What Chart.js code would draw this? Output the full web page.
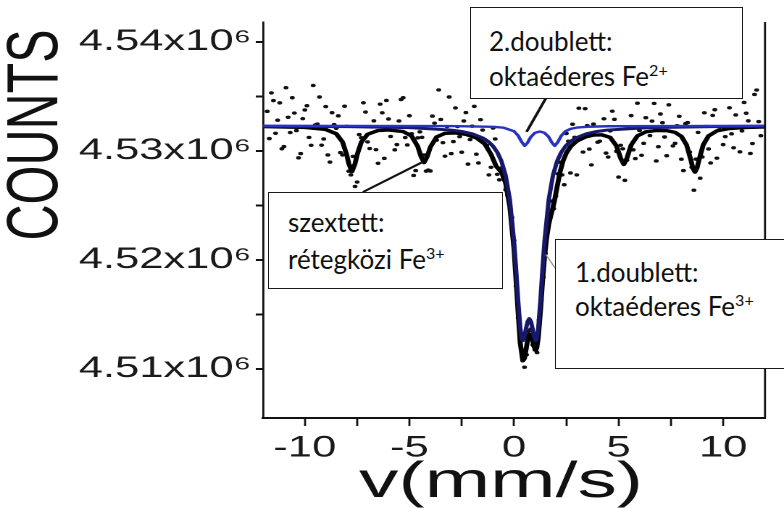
<!DOCTYPE html>
<html>
<head>
<meta charset="utf-8">
<script src="https://cdn.jsdelivr.net/npm/chart.js@4.4.1/dist/chart.umd.min.js"></script>
<style>
  html, body { margin: 0; padding: 0; background: #fff; }
  #page { position: relative; width: 784px; height: 509px; overflow: hidden; }
  /* the original figure is stretched sideways, so the plot canvas is too */
  #plot { position: absolute; left: 0; top: 0; width: 541px; height: 509px; transform: scaleX(1.44917); transform-origin: 0 0; }
  .note { position: absolute; box-sizing: border-box; background: #fff; border: 1.5px solid #1a1a1a;
          font-family: Lato, "Noto Sans", sans-serif; font-size: 26px; color: #111; white-space: nowrap; }
  .note sup { font-size: 62%; vertical-align: 0.62em; line-height: 0; }
</style>
</head>
<body>
<div id="page">
  <div id="plot"><canvas id="chart"></canvas></div>
  <div class="note" style="left:268px; top:192px; width:235px; height:97px; padding:11px 0 0 19px; line-height:37px;">szextett:<br>rétegközi Fe<sup>3+</sup></div>
  <div class="note" style="left:470px; top:7px; width:273px; height:92px; padding:16px 0 0 18px; line-height:35px;">2.doublett:<br>oktaéderes Fe<sup>2+</sup></div>
  <div class="note" style="left:555px; top:239px; width:240px; height:130px; padding:15px 0 0 19px; line-height:34px;">1.doublett:<br>oktaéderes Fe<sup>3+</sup></div>
</div>
<script>
// measured spectrum, even channels (velocity in mm/s, counts)
const measuredV = [-11.8, -11.6, -11.4, -11.2, -11.0, -10.8, -10.6, -10.4, -10.2, -10.0,
  -9.8, -9.6, -9.4, -9.2, -9.0, -8.8, -8.6, -8.4, -8.2, -8.0,
  -7.8, -7.6, -7.4, -7.2, -7.0, -6.8, -6.6, -6.4, -6.2, -6.0,
  -5.8, -5.6, -5.4, -5.2, -5.0, -4.8, -4.6, -4.4, -4.2, -4.0,
  -3.8, -3.6, -3.4, -3.2, -3.0, -2.8, -2.6, -2.4, -2.2, -2.0,
  -1.8, -1.6, -1.4, -1.2, -1.0, -0.8, -0.6, -0.4, -0.2, 0.0,
  0.2, 0.4, 0.6, 0.8, 1.0, 1.2, 1.4, 1.6, 1.8, 2.0,
  2.2, 2.4, 2.6, 2.8, 3.0, 3.2, 3.4, 3.6, 3.8, 4.0,
  4.2, 4.4, 4.6, 4.8, 5.0, 5.2, 5.4, 5.6, 5.8, 6.0,
  6.2, 6.4, 6.6, 6.8, 7.0, 7.2, 7.4, 7.6, 7.8, 8.0,
  8.2, 8.4, 8.6, 8.8, 9.0, 9.2, 9.4, 9.6, 9.8, 10.0,
  10.2, 10.4, 10.6, 10.8, 11.0, 11.2, 11.4, 11.6, 11.8];
const measuredCounts = [4533630, 4535325, 4531620, 4534410, 4530400, 4533090, 4534880, 4531870, 4529760, 4533760,
  4531240, 4536010, 4532470, 4530530, 4534070, 4528980, 4532420, 4533220, 4529630, 4532260,
  4527800, 4526740, 4531500, 4534420, 4530830, 4532200, 4530120, 4534290, 4529320, 4532930,
  4532220, 4530580, 4534720, 4531230, 4533230, 4527750, 4531200, 4531250, 4528150, 4528160,
  4532550, 4535600, 4530760, 4532240, 4529760, 4533950, 4531310, 4532750, 4528790, 4532270,
  4529700, 4532870, 4531040, 4527800, 4532100, 4527860, 4528450, 4526440, 4525010, 4521800,
  4514700, 4511200, 4511300, 4513650, 4511750, 4514500, 4518400, 4522800, 4525400, 4525850,
  4528970, 4526900, 4530900, 4532450, 4527800, 4531320, 4533880, 4530170, 4532460, 4530800,
  4534980, 4529800, 4531840, 4532900, 4527600, 4530200, 4529150, 4533240, 4529300, 4531880,
  4530700, 4534980, 4532740, 4529080, 4533390, 4531280, 4534230, 4530460, 4532320, 4529240,
  4532500, 4529900, 4526400, 4531700, 4529450, 4532250, 4528900, 4533780, 4532180, 4530580,
  4536650, 4531570, 4533300, 4529920, 4534450, 4532760, 4530680, 4535590, 4531400];

// measured spectrum, odd channels
const measuredV2 = [-11.7, -11.5, -11.3, -11.1, -10.9, -10.7, -10.5, -10.3, -10.1, -9.9,
  -9.7, -9.5, -9.3, -9.1, -8.9, -8.7, -8.5, -8.3, -8.1, -7.9,
  -7.7, -7.5, -7.3, -7.1, -6.9, -6.7, -6.5, -6.3, -6.1, -5.9,
  -5.7, -5.5, -5.3, -5.1, -4.9, -4.7, -4.5, -4.3, -4.1, -3.9,
  -3.7, -3.5, -3.3, -3.1, -2.9, -2.7, -2.5, -2.3, -2.1, -1.9,
  -1.7, -1.5, -1.3, -1.1, -0.9, -0.7, -0.5, -0.3, -0.1, 0.1,
  0.3, 0.5, 0.7, 0.9, 1.1, 1.3, 1.5, 1.7, 1.9, 2.1,
  2.3, 2.5, 2.7, 2.9, 3.1, 3.3, 3.5, 3.7, 3.9, 4.1,
  4.3, 4.5, 4.7, 4.9, 5.1, 5.3, 5.5, 5.7, 5.9, 6.1,
  6.3, 6.5, 6.7, 6.9, 7.1, 7.3, 7.5, 7.7, 7.9, 8.1,
  8.3, 8.5, 8.7, 8.9, 9.1, 9.3, 9.5, 9.7, 9.9, 10.1,
  10.3, 10.5, 10.7, 10.9, 11.1, 11.3, 11.5, 11.7];
const measuredCounts2 = [4531130, 4534620, 4532820, 4530200, 4535800, 4531690, 4533480, 4529370, 4532960, 4534150,
  4530520, 4532390, 4534950, 4531100, 4529630, 4533510, 4532080, 4529850, 4534100, 4528140,
  4529500, 4527150, 4531210, 4533570, 4530220, 4532760, 4528870, 4533500, 4534630, 4531330,
  4530100, 4532750, 4534880, 4530550, 4531580, 4528200, 4531750, 4529630, 4528250, 4533200,
  4530990, 4532890, 4529520, 4534950, 4530860, 4532240, 4529880, 4533520, 4531040, 4534090,
  4528900, 4531920, 4530500, 4528500, 4531100, 4527350, 4528100, 4525900, 4523900, 4517600,
  4512540, 4510160, 4513450, 4512200, 4511500, 4516300, 4520600, 4524350, 4524700, 4527900,
  4527800, 4531600, 4527980, 4531250, 4533920, 4529900, 4532330, 4528720, 4535180, 4530900,
  4532950, 4529440, 4533650, 4529960, 4530520, 4527300, 4532200, 4530100, 4534380, 4529600,
  4533050, 4531410, 4534360, 4530390, 4532590, 4529560, 4535700, 4530700, 4533180, 4528200,
  4532600, 4528500, 4529250, 4527500, 4533500, 4530180, 4533260, 4529340, 4535330, 4531310,
  4533960, 4530290, 4534910, 4531840, 4533460, 4529770, 4535180, 4532690];

// total fit (black)
const fitV = [-12, -10, -9, -8.5, -8.2, -8.0, -7.9, -7.75, -7.6, -7.5,
  -7.3, -7.0, -6.5, -6.0, -5.3, -4.9, -4.6, -4.45, -4.3, -4.15,
  -4.0, -3.7, -3.3, -2.8, -2.3, -1.8, -1.4, -1.1, -0.85, -0.6,
  -0.4, -0.2, 0, 0.2, 0.3, 0.42, 0.5, 0.58, 0.65, 0.73,
  0.81, 0.88, 0.96, 1.04, 1.09, 1.16, 1.26, 1.36, 1.46, 1.56,
  1.66, 1.75, 1.86, 1.95, 2.06, 2.2, 2.35, 2.5, 2.7, 3.0,
  3.4, 3.8, 4.2, 4.6, 4.9, 5.1, 5.25, 5.4, 5.6, 5.9,
  6.3, 6.8, 7.3, 7.7, 8.0, 8.25, 8.45, 8.55, 8.65, 8.75,
  8.85, 9.05, 9.3, 9.7, 10.3, 11, 12];
const fitCounts = [4532235, 4532156, 4531970, 4531580, 4530830, 4529659, 4528842, 4528101, 4528835, 4529649,
  4530812, 4531527, 4531872, 4531930, 4531780, 4531376, 4530401, 4529503, 4528931, 4529483,
  4530355, 4531285, 4531616, 4531654, 4531521, 4531203, 4530641, 4529697, 4528584, 4528046,
  4527041, 4524906, 4521000, 4515103, 4512341, 4510746, 4510964, 4511817, 4512623, 4513177,
  4513138, 4512693, 4512030, 4511718, 4511933, 4512873, 4515224, 4517946, 4520318, 4522054,
  4523258, 4523986, 4524810, 4525574, 4526698, 4528072, 4529115, 4529799, 4530383, 4530904,
  4531275, 4531455, 4531480, 4531236, 4530459, 4529319, 4528762, 4529349, 4530538, 4531383,
  4531752, 4531877, 4531861, 4531701, 4531341, 4530550, 4529213, 4528426, 4528063, 4528430,
  4529219, 4530573, 4531378, 4531843, 4532059, 4532150, 4532200];

// 1. doublett, octahedral Fe3+ (navy)
const fe3DoubletV = [-12, -8, -5, -3, -2.5, -2, -1.5, -1.2, -1.0, -0.8,
  -0.6, -0.4, -0.2, 0, 0.1, 0.2, 0.3, 0.37, 0.42, 0.5,
  0.58, 0.65, 0.73, 0.81, 0.88, 0.96, 1.04, 1.09, 1.16, 1.26,
  1.36, 1.46, 1.66, 1.86, 2.06, 2.26, 2.46, 2.66, 2.96, 3.46,
  3.96, 4.46, 6.46, 9.46, 12];
const fe3DoubletCounts = [4532267, 4532231, 4532138, 4531916, 4531785, 4531574, 4531199, 4530814, 4530433, 4529883,
  4529056, 4527739, 4525524, 4521729, 4519084, 4516195, 4513760, 4512806, 4512603, 4512971,
  4513746, 4514343, 4514616, 4514343, 4513746, 4512971, 4512603, 4512806, 4513760, 4516195,
  4519084, 4521729, 4525524, 4527739, 4529056, 4529883, 4530433, 4530814, 4531199, 4531574,
  4531785, 4531916, 4532138, 4532231, 4532262];

// 2. doublett, octahedral Fe2+ (blue)
const fe2DoubletV = [-12, -3, -1, -0.5, 0, 0.2, 0.35, 0.51, 0.65, 0.8,
  1.0, 1.23, 1.45, 1.65, 1.8, 1.95, 2.1, 2.25, 2.45, 2.7,
  3.0, 3.5, 4.5, 12];
const fe2DoubletCounts = [4532300, 4532281, 4532215, 4532131, 4531807, 4531399, 4530869, 4530467, 4530766, 4531278,
  4531660, 4531780, 4531671, 4531306, 4530802, 4530467, 4530831, 4531369, 4531793, 4532025,
  4532142, 4532219, 4532266, 4532300];

const xTickValues = [-10, -7.5, -5, -2.5, 0, 2.5, 5, 7.5, 10];
const xTickLabels = [-10, -5, 0, 5, 10];
const yTickValues = [4510000, 4515000, 4520000, 4525000, 4530000, 4535000, 4540000];
const yTickLabels = [4510000, 4520000, 4530000, 4540000];

const K = 784 / 541; // sideways stretch of the canvas
const FONT = '"Liberation Sans", Arial, sans-serif';

// leader lines from the text boxes (box end in page px, tip in data units)
const pointers = [
  { from: [363, 192], to: [-4.35, 4529000], color: '#111', width: 2 },
  { from: [546, 98], to: [0.6, 4531750], color: '#111', width: 2 },
  { from: [555, 268], to: [1.52, 4520500], color: '#999', width: 1 }
];

const toPoints = (xs, ys) => xs.map((x, i) => ({ x: x, y: ys[i] }));

const extras = {
  id: 'extras',
  afterDraw(chart) {
    const ctx = chart.ctx;
    const area = chart.chartArea;
    const xs = chart.scales.x, ys = chart.scales.y;
    ctx.save();
    // right frame line
    ctx.strokeStyle = '#111';
    ctx.lineWidth = 1.4;
    ctx.beginPath();
    ctx.moveTo(area.right, area.top);
    ctx.lineTo(area.right, area.bottom);
    ctx.stroke();
    pointers.forEach(p => {
      ctx.strokeStyle = p.color;
      ctx.lineWidth = p.width;
      ctx.beginPath();
      ctx.moveTo(p.from[0] / K, p.from[1]);
      ctx.lineTo(xs.getPixelForValue(p.to[0]), ys.getPixelForValue(p.to[1]));
      ctx.stroke();
    });
    ctx.fillStyle = '#111';
    ctx.font = '50px ' + FONT;
    ctx.textAlign = 'center';
    ctx.textBaseline = 'middle';
    // x axis title, a little wider than the tick font
    ctx.save();
    ctx.translate(501 / K, 483);
    ctx.scale(1.086, 1);
    ctx.fillText('v(mm/s)', 0, 0);
    ctx.restore();
    // y axis title
    ctx.translate(37 / K, 135);
    ctx.rotate(-Math.PI / 2);
    ctx.fillText('COUNTS', 0, 0);
    ctx.restore();
  }
};

new Chart(document.getElementById('chart'), {
  type: 'scatter',
  data: {
    datasets: [
      {
        label: 'Fe2+ doublet',
        data: toPoints(fe2DoubletV, fe2DoubletCounts),
        showLine: true, pointRadius: 0,
        borderColor: '#2a32c4', borderWidth: 2.4, borderJoinStyle: 'round',
        order: 0
      },
      {
        label: 'Fe3+ doublet',
        data: toPoints(fe3DoubletV, fe3DoubletCounts),
        showLine: true, pointRadius: 0,
        borderColor: '#17186a', borderWidth: 3, borderJoinStyle: 'round',
        order: 1
      },
      {
        label: 'fit',
        data: toPoints(fitV, fitCounts),
        showLine: true, pointRadius: 0,
        borderColor: '#000', borderWidth: 3.4, borderJoinStyle: 'round',
        order: 2
      },
      {
        label: 'measured',
        data: toPoints(measuredV, measuredCounts).concat(toPoints(measuredV2, measuredCounts2)),
        showLine: false,
        pointRadius: 1.7, pointBorderWidth: 0,
        pointBackgroundColor: '#111', pointBorderColor: '#111',
        order: 3
      }
    ]
  },
  options: {
    responsive: true,
    maintainAspectRatio: false,
    animation: false,
    devicePixelRatio: 2,
    layout: { padding: { top: 22, left: 0, right: 541 - 765 / K, bottom: 0 } },
    plugins: { legend: { display: false }, tooltip: { enabled: false } },
    scales: {
      x: {
        type: 'linear',
        min: -12, max: 12,
        afterBuildTicks: scale => { scale.ticks = xTickValues.map(v => ({ value: v })); },
        afterFit: scale => { scale.height = 91; },
        ticks: {
          autoSkip: false, maxRotation: 0, padding: 4,
          color: '#1a1a1a', font: { family: FONT, size: 30 },
          callback: v => xTickLabels.includes(v) ? String(v) : ''
        },
        grid: { drawOnChartArea: false, tickLength: 8, tickWidth: 1.4, tickColor: '#111' },
        border: { display: true, color: '#111', width: 2 }
      },
      y: {
        type: 'linear',
        min: 4505500, max: 4541830,
        afterBuildTicks: scale => { scale.ticks = yTickValues.map(v => ({ value: v })); },
        afterFit: scale => { scale.width = 263 / K; },
        ticks: {
          autoSkip: false, padding: 3,
          color: '#1a1a1a', font: { family: FONT, size: 30 },
          callback: v => yTickLabels.includes(v) ? (v / 1e6).toFixed(2) + 'x10\u2076' : ''
        },
        grid: { drawOnChartArea: false, tickLength: 5, tickWidth: 2, tickColor: '#111' },
        border: { display: true, color: '#111', width: 1.4 }
      }
    }
  },
  plugins: [extras]
});
</script>
</body>
</html>
